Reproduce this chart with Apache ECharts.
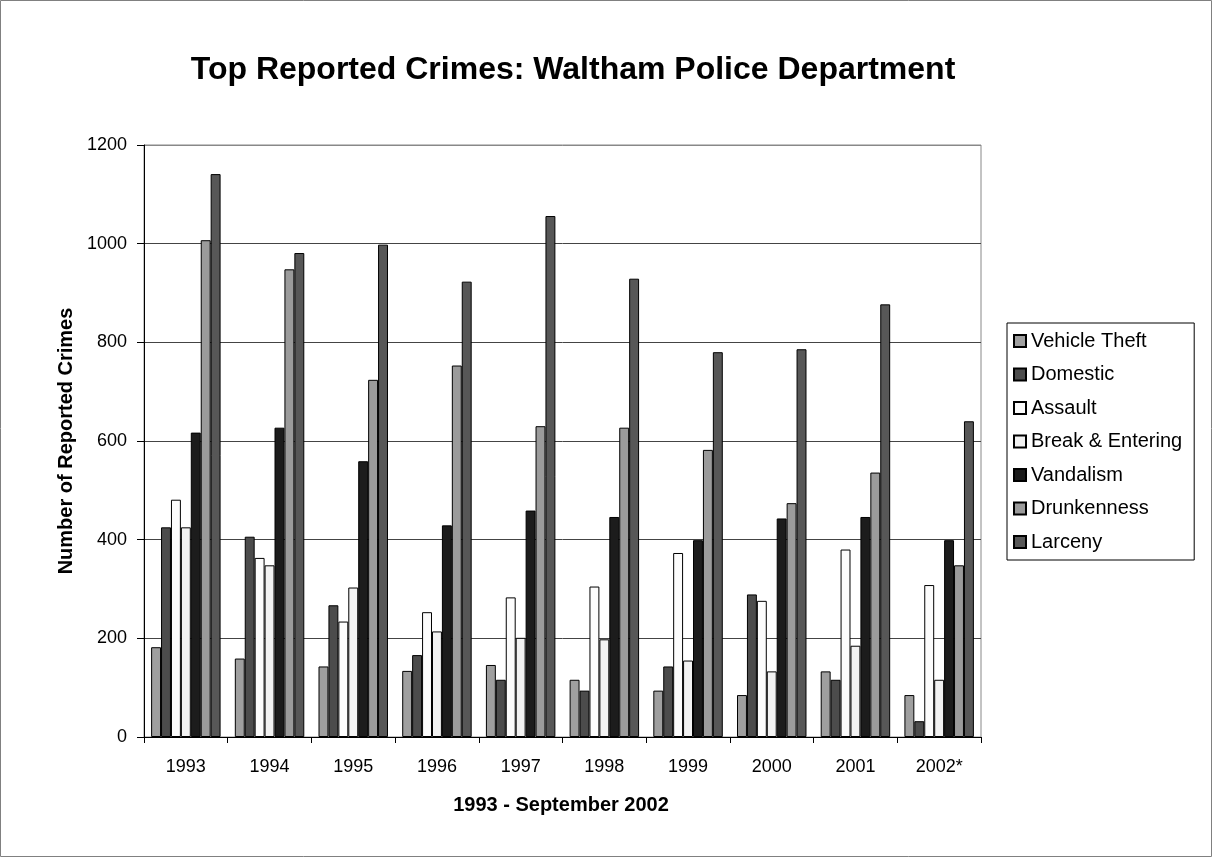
<!DOCTYPE html>
<html>
<head>
<meta charset="utf-8">
<script src="https://cdn.jsdelivr.net/npm/echarts@6/dist/echarts.min.js"></script>
<style>
  html, body { margin: 0; padding: 0; background: #fff; }
  #chart { width: 1212px; height: 857px; }
</style>
</head>
<body>
<div id="chart"></div>
<script>
const years = ['1993', '1994', '1995', '1996', '1997', '1998', '1999', '2000', '2001', '2002*'];
const vehicleTheft  = [182, 159, 143, 134, 146, 116,  94,  85, 133,  85];
const domestic      = [425, 406, 267, 166, 116,  94, 143, 289, 116,  32];
const assault       = [481, 363, 234, 253, 283, 305, 373, 276, 380, 308];
const breakEntering = [425, 348, 303, 214, 201, 198, 155, 133, 185, 116];
const vandalism     = [617, 627, 559, 429, 459, 446, 399, 443, 446, 399];
const drunkenness   = [1007, 948, 724, 753, 630, 627, 582, 474, 536, 348];
const larceny       = [1141, 981, 998, 923, 1056, 929, 780, 786, 877, 640];
const yTicks = { min: 0, max: 1200, interval: 200 };

const seriesDefs = [
  { name: 'Vehicle Theft', data: vehicleTheft, color: '#9f9f9f' },
  { name: 'Domestic', data: domestic, color: '#4c4c4c' },
  { name: 'Assault', data: assault, color: '#fcfcfc' },
  { name: 'Break & Entering', data: breakEntering, color: '#f2f2f2' },
  { name: 'Vandalism', data: vandalism, color: '#1c1c1c' },
  { name: 'Drunkenness', data: drunkenness, color: '#9b9b9b' },
  { name: 'Larceny', data: larceny, color: '#575757' }
];

const FONT = '"Liberation Sans", Arial, sans-serif';
const chart = echarts.init(document.getElementById('chart'), null, { renderer: 'canvas' });

chart.setOption({
  backgroundColor: '#ffffff',
  animation: false,
  textStyle: { fontFamily: FONT, color: '#000' },
  grid: {
    left: 144, top: 145, width: 837, height: 592,
    show: true, borderColor: '#888888', borderWidth: 1, backgroundColor: '#ffffff'
  },
  graphic: [
    { type: 'rect', silent: true, z: -1,
      shape: { x: 0.5, y: 0.5, width: 1211, height: 856 },
      style: { fill: null, stroke: '#808080', lineWidth: 1 } },
    { type: 'text', silent: true,
      style: { text: 'Top Reported Crimes: Waltham Police Department', x: 573, y: 70,
        font: 'bold 32px ' + FONT, fill: '#000', textAlign: 'center', textVerticalAlign: 'middle', verticalAlign: 'middle' } },
    { type: 'text', silent: true,
      style: { text: '1993 - September 2002', x: 561, y: 805,
        font: 'bold 20px ' + FONT, fill: '#000', textAlign: 'center', textVerticalAlign: 'middle', verticalAlign: 'middle' } },
    { type: 'text', silent: true, x: 66, y: 441, rotation: Math.PI / 2,
      style: { text: 'Number of Reported Crimes', x: 0, y: 0,
        font: 'bold 20px ' + FONT, fill: '#000', textAlign: 'center', textVerticalAlign: 'middle', verticalAlign: 'middle' } }
  ],
  legend: {
    orient: 'vertical',
    left: 1007, top: 323,
    padding: [8, 12, 8, 6],
    itemWidth: 12, itemHeight: 12, itemGap: 13.5,
    icon: 'rect',
    backgroundColor: '#ffffff',
    borderColor: '#000000', borderWidth: 1,
    selectedMode: false,
    textStyle: { fontFamily: FONT, fontSize: 20, color: '#000', lineHeight: 20 },
    data: seriesDefs.map(s => s.name)
  },
  xAxis: {
    type: 'category',
    data: years,
    axisLine: { show: true, lineStyle: { color: '#000', width: 1 } },
    axisTick: { show: true, alignWithLabel: false, length: 6, lineStyle: { color: '#000' } },
    axisLabel: { fontSize: 18, color: '#000', fontFamily: FONT, margin: 21 },
    splitLine: { show: false }
  },
  yAxis: {
    type: 'value',
    min: yTicks.min, max: yTicks.max, interval: yTicks.interval,
    axisLine: { show: true, lineStyle: { color: '#000', width: 1 } },
    axisTick: { show: true, length: 7, lineStyle: { color: '#000' } },
    axisLabel: { fontSize: 18, color: '#000', fontFamily: FONT, margin: 17, formatter: v => String(v) },
    splitLine: { show: true, lineStyle: { color: ['#444', '#444', '#444', '#444', '#444', '#444', '#888'], width: 1 } }
  },
  series: seriesDefs.map(s => ({
    name: s.name,
    type: 'bar',
    data: s.data,
    barGap: '0%',
    barCategoryGap: '17%',
    itemStyle: { color: s.color, borderColor: '#000', borderWidth: 1 },
    emphasis: { disabled: true }
  }))
});
</script>
</body>
</html>
